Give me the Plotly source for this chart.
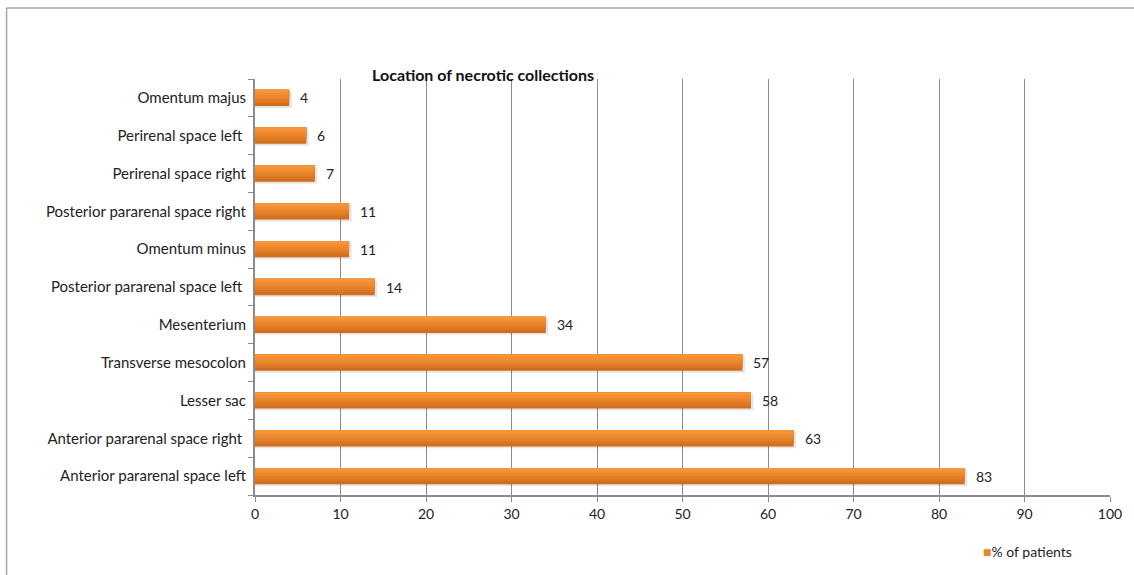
import plotly.graph_objects as go

# Locations, bottom to top as drawn on the category axis
locations = [
    "Anterior pararenal space left",
    "Anterior pararenal space right ",
    "Lesser sac",
    "Transverse mesocolon",
    "Mesenterium",
    "Posterior pararenal space left ",
    "Omentum minus",
    "Posterior pararenal space right",
    "Perirenal space right",
    "Perirenal space left ",
    "Omentum majus",
]
percent_patients = [83, 63, 58, 57, 34, 14, 11, 11, 7, 6, 4]
x_ticks = [0, 10, 20, 30, 40, 50, 60, 70, 80, 90, 100]
series_name = "% of patients"

FONT = "Lato, 'Open Sans', sans-serif"
BAR_W = 0.43
ORANGE = "#EC8429"
# vertical shading of the bars, bottom (dark) to top (light)
BAND_COLORS = ["#D26D1E", "#DB7622", "#E47F27", "#EC872C", "#F28E33", "#F7953A"]

fig = go.Figure()

# soft drop shadow under each bar
fig.add_trace(go.Bar(
    y=locations, x=[v + 0.3 for v in percent_patients], orientation="h",
    width=BAR_W, offset=-BAR_W / 2 - 0.05,
    marker=dict(color="rgba(0,0,0,0.10)", line=dict(width=0)),
    showlegend=False, hoverinfo="skip",
))
# stacked-in-place bands give the bar a top-to-bottom gradient
n = len(BAND_COLORS)
for i, col in enumerate(BAND_COLORS):
    frac = 1 - i / n
    fig.add_trace(go.Bar(
        name=series_name,
        y=locations, x=percent_patients, orientation="h",
        width=BAR_W * frac, offset=BAR_W / 2 - BAR_W * frac,
        marker=dict(color=col, line=dict(width=0)),
        showlegend=False,
        hoverinfo="skip" if i < n - 1 else None,
    ))

# value labels to the right of each bar
annotations = [
    dict(x=v, y=loc, xref="x", yref="y", text=str(v), showarrow=False,
         xanchor="left", yanchor="middle", xshift=9,
         font=dict(family=FONT, size=14, color="#222222"))
    for loc, v in zip(locations, percent_patients)
]
# legend entry: orange square + series name
annotations.append(dict(
    x=(983 - 255) / 857, y=(495 - 551) / 416, xref="paper", yref="paper",
    showarrow=False,
    text=f"<span style='color:{ORANGE}'>■</span>{series_name}",
    xanchor="left", yanchor="middle",
    font=dict(family=FONT, size=14, color="#222222"),
))

fig.update_layout(
    width=1134, height=575,
    barmode="overlay",
    showlegend=False,
    paper_bgcolor="white", plot_bgcolor="white",
    margin=dict(l=255, r=22, t=79, b=80),
    font=dict(family=FONT, size=14, color="#222222"),
    title=dict(
        text="<b>Location of necrotic collections</b>",
        x=0.426, xref="container", xanchor="center",
        y=1 - 75 / 575, yref="container", yanchor="middle",
        font=dict(family=FONT, size=16, color="#111111"),
    ),
    xaxis=dict(
        range=[0, 100], tickvals=x_ticks, showgrid=True,
        gridcolor="#8c8c8c", gridwidth=1,
        showline=True, linecolor="#8c8c8c", linewidth=2,
        ticks="outside", ticklen=5, tickcolor="#8c8c8c",
        tickfont=dict(family=FONT, size=14, color="#222222"),
        zeroline=False, fixedrange=True,
    ),
    yaxis=dict(
        type="category", categoryorder="array", categoryarray=locations,
        showline=True, linecolor="#8c8c8c", linewidth=2,
        ticks="outside", tickson="boundaries", ticklen=5, tickcolor="#8c8c8c",
        ticklabelstandoff=4,
        tickfont=dict(family=FONT, size=15, color="#222222"),
        showgrid=False, range=[-0.5, 10.5], fixedrange=True,
    ),
    annotations=annotations,
    shapes=[
        dict(type="line", xref="paper", yref="paper",
             x0=(6 - 255) / 857, x1=(1140 - 255) / 857,
             y0=(495 - 8) / 416, y1=(495 - 8) / 416,
             line=dict(color="#a6a6a6", width=1.5)),
        dict(type="line", xref="paper", yref="paper",
             x0=(6 - 255) / 857, x1=(6 - 255) / 857,
             y0=(495 - 8) / 416, y1=(495 - 580) / 416,
             line=dict(color="#a6a6a6", width=1.5)),
    ],
)

fig.write_html("out.html")
